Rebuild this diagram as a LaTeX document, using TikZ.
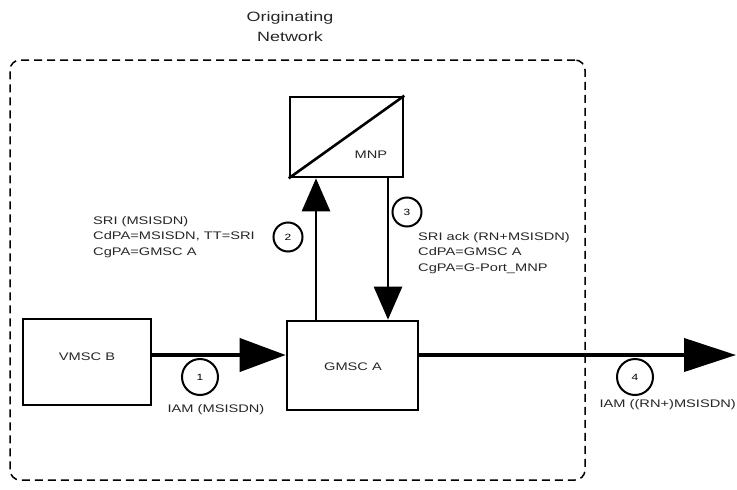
\documentclass[tikz,border=0pt]{standalone}
\usepackage{fontspec}
\setmainfont{Liberation Sans}[FakeStretch=1.33]
\usetikzlibrary{arrows.meta}
\begin{document}
\begin{tikzpicture}[x=1pt,y=-1pt,
  lbl/.style={font=\fontsize{11}{15.5}\selectfont, text=black!85, inner sep=0pt, align=left},
  titletext/.style={font=\fontsize{13.5}{20}\selectfont, text=black!85, align=center, inner sep=0pt},
  box/.style={draw, line width=2.6pt, inner sep=0pt},
  netbox/.style={draw, dashed, dash pattern=on 8pt off 5pt, line width=1.5pt, rounded corners=10pt, inner sep=0pt},
  num/.style={circle, draw, line width=2pt, inner sep=0pt, font=\fontsize{9}{10}\selectfont},
  bigarrow/.style={line width=4pt, -{Triangle[length=46pt,width=33pt]}},
  midarrow/.style={line width=2.6pt, -{Triangle[length=33pt,width=28pt]}}
]
\useasboundingbox (0,0) rectangle (737,490);

\node[titletext] (title) at (290,27) {Originating\\Network};
\node[netbox, minimum width=575pt, minimum height=420pt] (net) at (297.5,270) {};

\node[box, minimum width=113pt, minimum height=80pt] (mnp) at (346.5,137) {};
\draw[line width=2.6pt] (mnp.south west) -- (mnp.north east);
\node[lbl] (mnptext) at (371,155) {MNP};

\node[box, minimum width=131pt, minimum height=89pt] (gmsc) at (352.5,365.5) {};
\node[lbl] (gmsctext) at (353,367) {GMSC A};
\node[box, minimum width=128pt, minimum height=86pt] (vmsc) at (87,362) {};
\node[lbl] (vmsctext) at (87,357) {VMSC B};

\coordinate (a1) at (0,355);
\coordinate (x2) at (316,0);
\coordinate (x3) at (388,0);
\coordinate (out) at (736,355);

\draw[bigarrow] (vmsc.east |- a1) -- (gmsc.west |- a1);
\draw[bigarrow, -{Triangle[length=52pt,width=33pt]}] (gmsc.east |- a1) -- (out);
\draw[midarrow] (gmsc.north -| x2) -- (mnp.south -| x2);
\draw[midarrow] (mnp.south -| x3) -- (gmsc.north -| x3);

\node[num, minimum size=36pt] (c1) at (200,377) {1};
\node[num, minimum size=29pt] (c2) at (288,237) {2};
\node[num, minimum size=29pt] (c3) at (407,212) {3};
\node[num, minimum size=36pt] (c4) at (635,377) {4};

\node[lbl, anchor=west] (l2) at (93,237) {SRI (MSISDN)\\CdPA=MSISDN, TT=SRI\\CgPA=GMSC A};
\node[lbl, anchor=west] (l3) at (418,253) {SRI ack (RN+MSISDN)\\CdPA=GMSC A\\CgPA=G-Port\_MNP};
\node[lbl] (l1) at (216,410) {IAM (MSISDN)};
\node[lbl, anchor=east] (l4) at (736,405) {IAM ((RN+)MSISDN)};
\end{tikzpicture}
\end{document}
